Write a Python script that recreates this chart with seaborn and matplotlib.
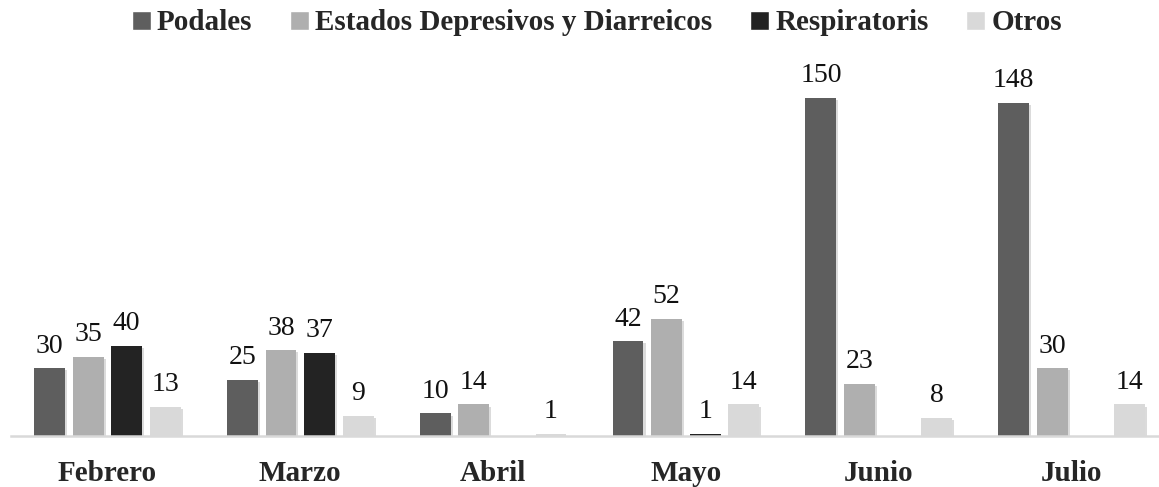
import numpy as np
import pandas as pd
import matplotlib
matplotlib.use("Agg")
import matplotlib.pyplot as plt
import matplotlib.patheffects as pe
import seaborn as sns

months = ["Febrero", "Marzo", "Abril", "Mayo", "Junio", "Julio"]
series = ["Podales", "Estados Depresivos y Diarreicos", "Respiratoris", "Otros"]
podales = [30, 25, 10, 42, 150, 148]
estados = [35, 38, 14, 52, 23, 30]
respiratoris = [40, 37, np.nan, 1, np.nan, np.nan]
otros = [13, 9, 1, 14, 8, 14]
colors = ["#5e5e5e", "#afafaf", "#232323", "#d9d9d9"]

rows = []
for s, vals in zip(series, [podales, estados, respiratoris, otros]):
    for m, v in zip(months, vals):
        rows.append({"Mes": m, "Serie": s, "Valor": v})
df = pd.DataFrame(rows).dropna()

sns.set_theme(style="white")
plt.rcParams["font.family"] = ["Liberation Serif", "DejaVu Serif"]

W, H = 1159, 487
fig = plt.figure(figsize=(W / 100, H / 100), dpi=100)
ax_left = 11 / W
ax_right_px = 1168
ax_top_px = 55
ax_bottom_px = 436
ax = fig.add_axes([ax_left, (H - ax_bottom_px) / H, (ax_right_px - 11) / W, (ax_bottom_px - ax_top_px) / H])

sns.barplot(data=df, x="Mes", y="Valor", hue="Serie", order=months, hue_order=series,
            palette=colors, width=0.8, gap=0.2, saturation=1, ax=ax, errorbar=None,
            legend=True)

shadow = [pe.SimplePatchShadow(offset=(1.5, -1.5), shadow_rgbFace="#9a9a9a", alpha=0.35), pe.Normal()]
for cont in ax.containers:
    for p in cont:
        p.set_path_effects(shadow)
        p.set_edgecolor("none")
    ax.bar_label(cont, fmt="%d", padding=7, fontsize=20, color="#111111")

ax.set_xlim(-0.5, 5.5)
ax.set_ylim(0, (ax_bottom_px - ax_top_px) / 2.253)
ax.set_xlabel("")
ax.set_ylabel("")
ax.set_yticks([])
ax.tick_params(axis="x", length=0, pad=17)
for lbl in ax.get_xticklabels():
    lbl.set_fontsize(21)
    lbl.set_fontweight("bold")
for sp in ["top", "right", "left"]:
    ax.spines[sp].set_visible(False)
ax.spines["bottom"].set_color("#d9d9d9")
ax.spines["bottom"].set_linewidth(1.8)
ax.spines["bottom"].set_bounds(-0.5, 5.45)

handles, labels = ax.get_legend_handles_labels()
ax.legend(handles, labels, loc="center", bbox_to_anchor=(597 / W, 1 - 23 / H),
          bbox_transform=fig.transFigure, ncol=4, frameon=False,
          prop={"family": "Liberation Serif", "weight": "bold", "size": 21},
          handlelength=0.65, handleheight=0.65, handletextpad=0.2, columnspacing=1.3)

fig.savefig("out.png", dpi=100)
